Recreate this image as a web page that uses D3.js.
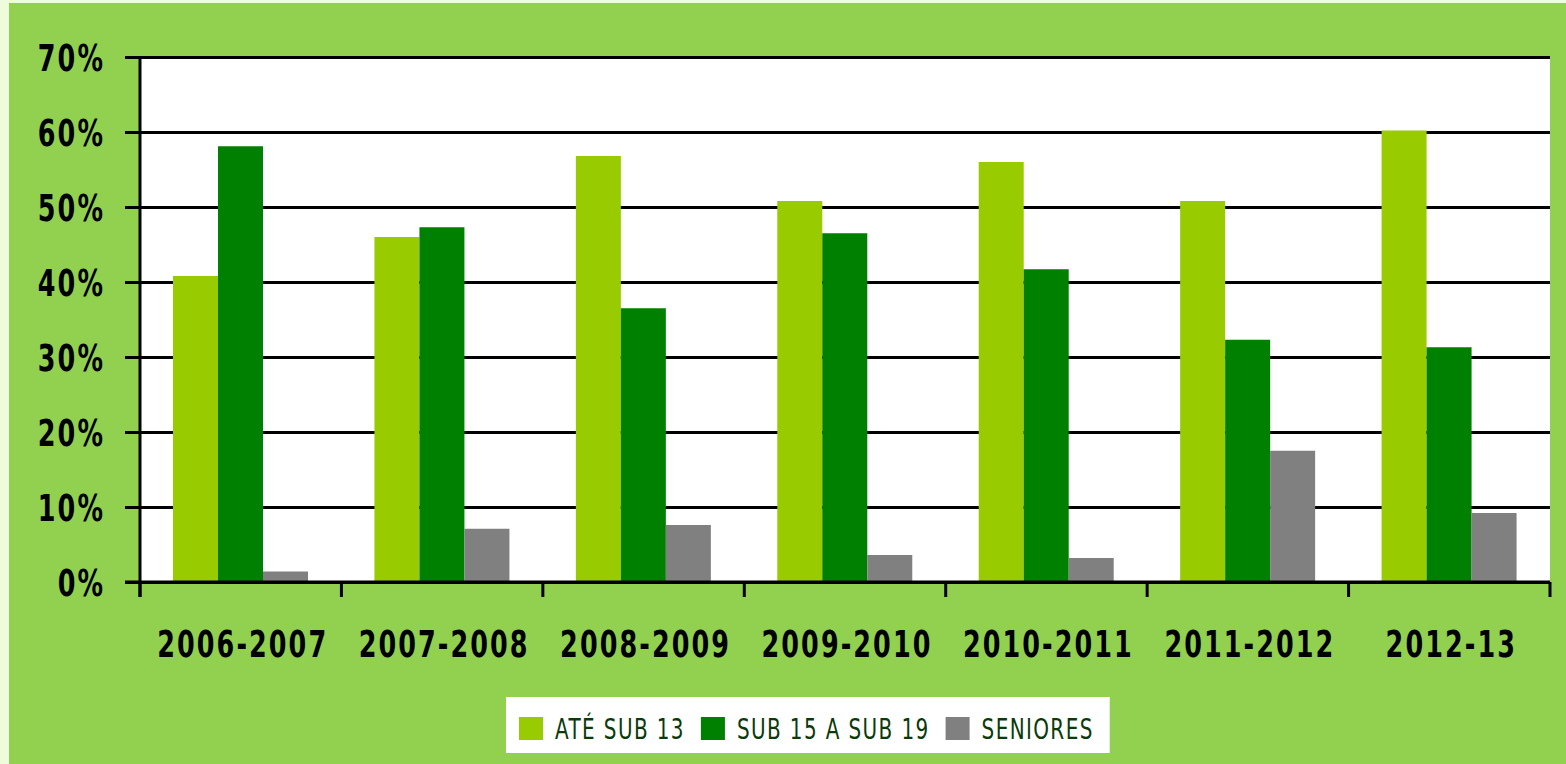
<!DOCTYPE html>
<html>
<head>
<meta charset="utf-8">
<script src="https://cdn.jsdelivr.net/npm/d3@7"></script>
<style>
  body { margin: 0; background: #eefcdc; }
  svg { display: block; }
  .tick-label { font-family: 'Liberation Sans Narrow', 'DejaVu Sans', sans-serif; font-weight: bold; font-size: 37px; letter-spacing: 3px; fill: #000; }
  .legend-label { font-family: 'Liberation Sans Narrow', 'DejaVu Sans', sans-serif; font-size: 29px; letter-spacing: 2px; fill: #0b3a0b; }
</style>
</head>
<body>
<div id="chart"></div>
<script>
// seasons and series
const seasons = ["2006-2007", "2007-2008", "2008-2009", "2009-2010", "2010-2011", "2011-2012", "2012-13"];
const seriesNames = ["ATÉ SUB 13", "SUB 15 A SUB 19", "SENIORES"];
const ateSub13 = [0.408, 0.460, 0.568, 0.508, 0.560, 0.508, 0.602];
const sub15a19 = [0.581, 0.473, 0.365, 0.465, 0.417, 0.323, 0.313];
const seniores = [0.014, 0.071, 0.076, 0.036, 0.032, 0.175, 0.092];
const yTicks = [0, 0.1, 0.2, 0.3, 0.4, 0.5, 0.6, 0.7];
const colors = ["#99cc00", "#008000", "#808080"];

const W = 1566, H = 764;
const margin = {top: 57, left: 140};
const width = 1410, height = 525;

const svg = d3.select("#chart").append("svg")
  .attr("width", W)
  .attr("height", H);

// the original uses a condensed face; squeeze whatever font we get to the same width
function measure(cls, str) {
  const t = svg.append("text").attr("class", cls).text(str);
  const w = t.node().getComputedTextLength();
  t.remove();
  return w;
}
const fTick = 171 / measure("tick-label", "2006-2007");
const fLeg = 130 / measure("legend-label", "ATÉ SUB 13");

// green panel (pale strip shows at top and left)
svg.append("rect")
  .attr("x", 9).attr("y", 3)
  .attr("width", W - 9).attr("height", H - 3)
  .attr("fill", "#92d050");

const g = svg.append("g")
  .attr("transform", "translate(" + margin.left + "," + margin.top + ")");

g.append("rect")
  .attr("width", width).attr("height", height)
  .attr("fill", "#fff");

const x0 = d3.scaleBand().domain(seasons).range([0, width]).padding(0);
const x1 = d3.scaleBand().domain(seriesNames).range([33, 168]).padding(0);
const y = d3.scaleLinear().domain([0, 0.7]).range([height, 0]);

// grid
g.append("g")
  .attr("class", "grid")
  .call(d3.axisLeft(y).tickValues(yTicks).tickSize(-width).tickFormat(""))
  .call(s => s.select(".domain").remove())
  .call(s => s.selectAll("line").attr("stroke", "#000").attr("stroke-width", 3));

// bars
const rows = seasons.map((s, i) => ({
  season: s,
  values: [ateSub13[i], sub15a19[i], seniores[i]]
}));

const groups = g.selectAll(".grp")
  .data(rows)
  .enter().append("g")
  .attr("class", "grp")
  .attr("transform", d => "translate(" + x0(d.season) + ",0)");

groups.selectAll("rect")
  .data(d => d.values.map((v, k) => ({name: seriesNames[k], v: v, k: k})))
  .enter().append("rect")
  .attr("x", d => x1(d.name))
  .attr("width", x1.bandwidth())
  .attr("y", d => y(d.v))
  .attr("height", d => height - y(d.v))
  .attr("fill", d => colors[d.k]);

// y axis
const yAxis = g.append("g")
  .call(d3.axisLeft(y).tickValues(yTicks).tickSize(15).tickFormat(d3.format(".0%")));
yAxis.select(".domain").remove();
yAxis.selectAll("line").attr("stroke", "#000").attr("stroke-width", 3);
yAxis.selectAll("text")
  .attr("class", "tick-label")
  .attr("x", 0)
  .attr("dy", "0.36em")
  .attr("transform", "translate(-35,0) scale(" + fTick + ",1)");

g.append("line")
  .attr("x1", 0).attr("x2", 0)
  .attr("y1", 0).attr("y2", height + 15)
  .attr("stroke", "#000").attr("stroke-width", 3);

// x axis
g.append("line")
  .attr("x1", -15).attr("x2", width)
  .attr("y1", height).attr("y2", height)
  .attr("stroke", "#000").attr("stroke-width", 3);

const bounds = seasons.map(s => x0(s)).concat([x0.range()[1]]);
g.selectAll(".xtick")
  .data(bounds)
  .enter().append("line")
  .attr("class", "xtick")
  .attr("x1", d => d).attr("x2", d => d)
  .attr("y1", height).attr("y2", height + 15)
  .attr("stroke", "#000").attr("stroke-width", 3);

g.selectAll(".xlabel")
  .data(seasons)
  .enter().append("text")
  .attr("class", "tick-label")
  .attr("text-anchor", "middle")
  .attr("transform", d => "translate(" + (x0(d) + x0.bandwidth() / 2 + 2) + "," + (height + 75) + ") scale(" + fTick + ",1)")
  .text(d => d);

// legend
const legend = svg.append("g").attr("transform", "translate(506,697)");
const legendBox = legend.append("rect")
  .attr("height", 56)
  .attr("fill", "#fff");

let lx = 13;
seriesNames.forEach((name, i) => {
  legend.append("rect")
    .attr("x", lx).attr("y", 20)
    .attr("width", 24).attr("height", 23)
    .attr("fill", colors[i]);
  const t = legend.append("text")
    .attr("class", "legend-label")
    .attr("transform", "translate(" + (lx + 36) + ",42) scale(" + fLeg + ",1)")
    .text(name);
  const w = t.node().getComputedTextLength() * fLeg;
  lx += 36 + w + 16;
});
legendBox.attr("width", lx);
</script>
</body>
</html>
